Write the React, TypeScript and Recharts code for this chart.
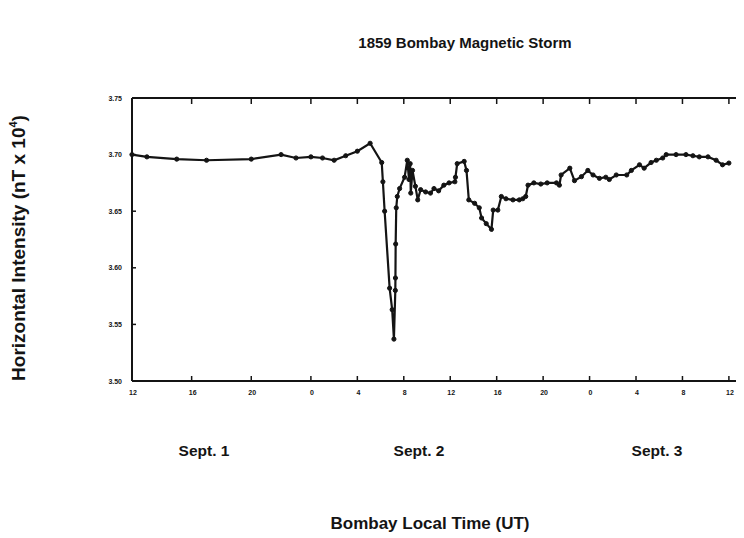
import React from 'react';
import { LineChart, Line, XAxis, YAxis } from 'recharts';

// Hours elapsed since Sept. 1, 12:00 Bombay local time
const hoursSinceSept1Noon = [
  0, 1, 3, 5, 8, 10, 11, 12, 13, 14,
  15, 16, 17.1, 18.1, 18.2, 18.35, 18.78, 19.0, 19.15, 19.27,
  19.28, 19.3, 19.35, 19.44, 19.64, 20.07, 20.3, 20.45, 20.55, 20.6,
  20.75, 21.0, 21.2, 21.45, 21.88, 22.3, 22.6, 23.0, 23.45, 23.9,
  24.4, 24.45, 24.6, 25.2, 25.4, 25.6, 26.1, 26.5, 26.7, 27.1,
  27.55, 27.7, 28.1, 28.4, 28.8, 29.4, 29.95, 30.25, 30.5, 30.7,
  31.2, 31.8, 32.35, 33.15, 33.4, 33.55, 34.3, 34.7, 35.3, 35.85,
  36.3, 36.85, 37.4, 37.7, 38.3, 39.2, 39.6, 40.3, 40.7, 41.3,
  41.75, 42.3, 42.6, 43.45, 44.3, 44.9, 45.45, 46.2, 46.9, 47.45,
  48.0,
];

// Horizontal intensity (nT x 10^4)
const horizontalIntensity = [
  3.700, 3.698, 3.696, 3.695, 3.696, 3.700, 3.697, 3.698, 3.697, 3.695,
  3.699, 3.703, 3.710, 3.693, 3.676, 3.650, 3.582, 3.563, 3.537, 3.580,
  3.591, 3.621, 3.653, 3.663, 3.670, 3.680, 3.695, 3.678, 3.692, 3.666,
  3.686, 3.672, 3.660, 3.669, 3.667, 3.666, 3.670, 3.668, 3.673, 3.675,
  3.676, 3.680, 3.692, 3.694, 3.686, 3.660, 3.657, 3.653, 3.644, 3.639,
  3.634, 3.651, 3.651, 3.663, 3.661, 3.660, 3.660, 3.661, 3.663, 3.673,
  3.675, 3.674, 3.675, 3.675, 3.673, 3.682, 3.688, 3.677, 3.6805, 3.686,
  3.682, 3.679, 3.680, 3.678, 3.682, 3.682, 3.686, 3.691, 3.688, 3.693,
  3.695, 3.697, 3.700, 3.700, 3.700, 3.699, 3.698, 3.698, 3.695, 3.691,
  3.6925,
];

const tickHours = [0, 4, 8, 12, 16, 20, 24, 28, 32, 36, 40, 44, 48];
const tickLabels = ['12', '16', '20', '0', '4', '8', '12', '16', '20', '0', '4', '8', '12'];
const yTicks = [3.5, 3.55, 3.6, 3.65, 3.7, 3.75];
const dayLabels = ['Sept. 1', 'Sept. 2', 'Sept. 3'];

// the original time axis is stretched for the first 12 hours
const EARLY_STRETCH = 1.284;
const warp = (h: number) => (h <= 12 ? h * EARLY_STRETCH : 12 * EARLY_STRETCH + (h - 12));

const data = hoursSinceSept1Noon.map((h, i) => ({ u: warp(h), v: horizontalIntensity[i] }));
const xTicks = tickHours.map(warp);

const FONT = '"Liberation Sans", Arial, Helvetica, sans-serif';
const INK = '#141414';

const labelFor = (value: number) => {
  let best = 0;
  xTicks.forEach((t, i) => {
    if (Math.abs(t - value) < Math.abs(xTicks[best] - value)) best = i;
  });
  return tickLabels[best];
};

const BottomTick = (props: any) => {
  const { x, y, payload } = props;
  return (
    <g>
      <line x1={x} x2={x} y1={y} y2={y - 5} stroke={INK} strokeWidth={1.5} />
      <text x={x + 1} y={y + 14} textAnchor="middle" fontSize={7} fontWeight="bold" fontFamily={FONT} fill={INK}>
        {labelFor(payload.value)}
      </text>
    </g>
  );
};

const TopTick = (props: any) => {
  const { x, y } = props;
  return <line x1={x} x2={x} y1={y} y2={y + 6} stroke={INK} strokeWidth={1.5} />;
};

const LeftTick = (props: any) => {
  const { x, y, payload } = props;
  return (
    <g>
      <line x1={x} x2={x + 4} y1={y} y2={y} stroke={INK} strokeWidth={1.5} />
      <text x={x - 10} y={y + 2.5} textAnchor="end" fontSize={7} fontWeight="bold" fontFamily={FONT} fill={INK}>
        {Number(payload.value).toFixed(2)}
      </text>
    </g>
  );
};

const centered = (left: number, top: number, size: number, extra: React.CSSProperties = {}): React.CSSProperties => ({
  position: 'absolute',
  left,
  top,
  transform: 'translate(-50%, -50%)',
  fontFamily: FONT,
  fontWeight: 'bold',
  fontSize: size,
  color: INK,
  whiteSpace: 'nowrap',
  lineHeight: 1,
  ...extra,
});

const dayCenters = [196, 411, 649];

export default function App() {
  return (
    <div style={{ position: 'relative', width: 736, height: 530, overflow: 'hidden', background: '#fff' }}>
      <div style={centered(457, 34, 15)}>1859 Bombay Magnetic Storm</div>
      <div style={centered(10, 240, 19, { transform: 'translate(-50%, -50%) rotate(-90deg)' })}>
        Horizontal Intensity (nT x 10<sup style={{ fontSize: 11 }}>4</sup>)
      </div>
      <LineChart width={751} height={410} data={data} margin={{ top: 80, right: 0, bottom: 7, left: 84 }}>
        <XAxis
          dataKey="u"
          type="number"
          domain={[0, 54]}
          ticks={xTicks}
          interval={0}
          height={30}
          tickSize={0}
          tickMargin={0}
          tick={<BottomTick />}
          axisLine={{ stroke: INK, strokeWidth: 2 }}
          tickLine={false}
        />
        <XAxis
          xAxisId="top"
          orientation="top"
          dataKey="u"
          type="number"
          domain={[0, 54]}
          ticks={xTicks}
          interval={0}
          height={10}
          tickSize={0}
          tickMargin={0}
          tick={<TopTick />}
          axisLine={{ stroke: INK, strokeWidth: 2 }}
          tickLine={false}
        />
        <YAxis
          type="number"
          domain={[3.5, 3.75]}
          ticks={yTicks}
          interval={0}
          width={40}
          tickSize={0}
          tickMargin={0}
          tick={<LeftTick />}
          axisLine={{ stroke: INK, strokeWidth: 2 }}
          tickLine={false}
        />
        <Line
          xAxisId="top"
          type="linear"
          dataKey="v"
          stroke="none"
          dot={false}
          activeDot={false}
          legendType="none"
          isAnimationActive={false}
        />
        <Line
          type="linear"
          dataKey="v"
          stroke={INK}
          strokeWidth={2.2}
          dot={{ r: 2.1, fill: INK, stroke: INK, strokeWidth: 1 }}
          isAnimationActive={false}
        />
      </LineChart>
      {dayLabels.map((d, i) => (
        <div key={d} style={centered(dayCenters[i], 443, 15.5)}>
          {d}
        </div>
      ))}
      <div style={centered(422, 515, 17)}>Bombay Local Time (UT)</div>
    </div>
  );
}
